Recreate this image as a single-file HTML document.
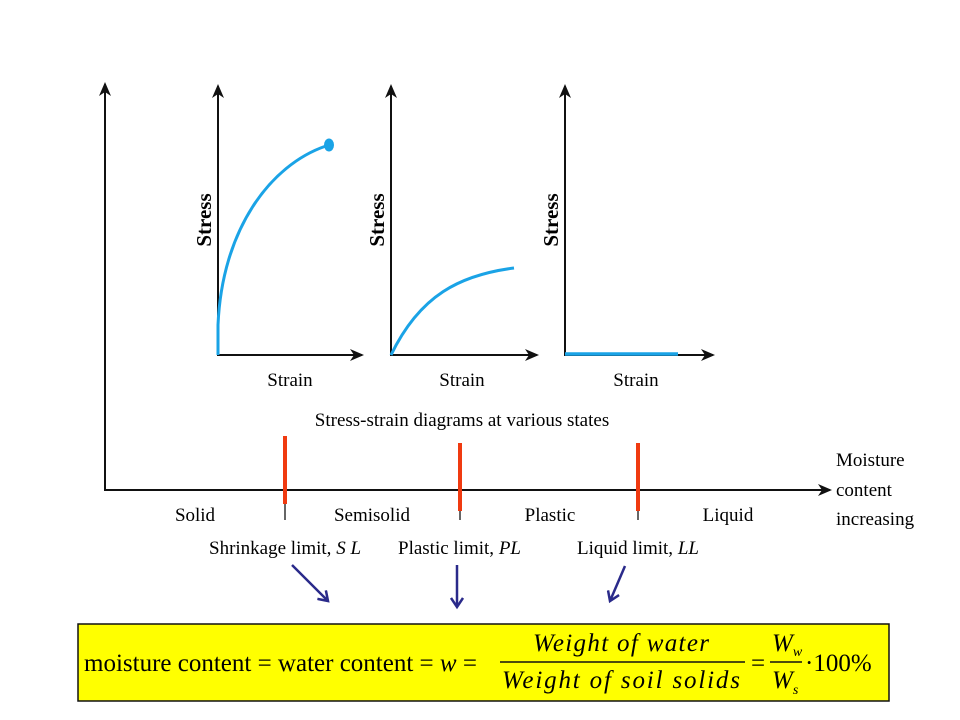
<!DOCTYPE html>
<html><head><meta charset="utf-8"><style>
body{margin:0;background:#fff;}
svg{display:block;font-family:"Liberation Serif",serif;}
</style></head><body>
<svg width="960" height="720" viewBox="0 0 960 720">
<defs>
<marker id="ah" markerWidth="14" markerHeight="12" refX="12" refY="6" orient="auto" markerUnits="userSpaceOnUse"><path d="M0,0 L14,6 L0,12 L4,6 Z" fill="#111"/></marker>
<marker id="bh" markerWidth="14" markerHeight="14" refX="11" refY="7" orient="auto" markerUnits="userSpaceOnUse"><path d="M2,1 L11,7 L2,13" fill="none" stroke="#2a2a8a" stroke-width="2.5"/></marker>
</defs>
<g stroke="#111" stroke-width="2" fill="none">
<line x1="105" y1="490" x2="105" y2="84" marker-end="url(#ah)"/>
<line x1="104" y1="490" x2="830" y2="490" marker-end="url(#ah)"/>
</g>
<text x="836" y="466" font-size="19">Moisture</text>
<text x="836" y="496" font-size="19">content</text>
<text x="836" y="525" font-size="19">increasing</text>
<g>
<g stroke="#111" stroke-width="2" fill="none"><line x1="218" y1="355" x2="218" y2="86" marker-end="url(#ah)"/><line x1="217" y1="355" x2="362" y2="355" marker-end="url(#ah)"/></g>
<path d="M218,355 L218,325 C222,230 270,165 326,146" fill="none" stroke="#1aa3e6" stroke-width="3"/>
<ellipse cx="329" cy="145" rx="5" ry="6.5" fill="#1aa3e6"/>
<text transform="translate(211,220) rotate(-90)" text-anchor="middle" font-size="21" font-weight="bold">Stress</text>
<text x="290" y="386" text-anchor="middle" font-size="19">Strain</text>
</g>
<g>
<g stroke="#111" stroke-width="2" fill="none"><line x1="391" y1="355" x2="391" y2="86" marker-end="url(#ah)"/><line x1="390" y1="355" x2="537" y2="355" marker-end="url(#ah)"/></g>
<path d="M391,355 C420,295 460,275 514,268" fill="none" stroke="#1aa3e6" stroke-width="3"/>
<text transform="translate(384,220) rotate(-90)" text-anchor="middle" font-size="21" font-weight="bold">Stress</text>
<text x="462" y="386" text-anchor="middle" font-size="19">Strain</text>
</g>
<g>
<g stroke="#111" stroke-width="2" fill="none"><line x1="565" y1="355" x2="565" y2="86" marker-end="url(#ah)"/><line x1="564" y1="355" x2="713" y2="355" marker-end="url(#ah)"/></g>
<line x1="565" y1="354" x2="678" y2="354" stroke="#1aa3e6" stroke-width="3.5"/>
<text transform="translate(558,220) rotate(-90)" text-anchor="middle" font-size="21" font-weight="bold">Stress</text>
<text x="636" y="386" text-anchor="middle" font-size="19">Strain</text>
</g>
<text x="462" y="426" text-anchor="middle" font-size="19">Stress-strain diagrams at various states</text>
<g>
<line x1="285" y1="490" x2="285" y2="520" stroke="#333" stroke-width="1.5"/>
<line x1="460" y1="490" x2="460" y2="520" stroke="#333" stroke-width="1.5"/>
<line x1="638" y1="490" x2="638" y2="520" stroke="#333" stroke-width="1.5"/>
<line x1="285" y1="436" x2="285" y2="504" stroke="#f03a10" stroke-width="4"/>
<line x1="460" y1="443" x2="460" y2="511" stroke="#f03a10" stroke-width="4"/>
<line x1="638" y1="443" x2="638" y2="511" stroke="#f03a10" stroke-width="4"/>
</g>
<g font-size="19">
<text x="195" y="521" text-anchor="middle">Solid</text>
<text x="372" y="521" text-anchor="middle">Semisolid</text>
<text x="550" y="521" text-anchor="middle">Plastic</text>
<text x="728" y="521" text-anchor="middle">Liquid</text>
</g>
<g font-size="19">
<text x="209" y="554">Shrinkage limit, <tspan font-style="italic">S L</tspan></text>
<text x="398" y="554">Plastic limit,  <tspan font-style="italic">PL</tspan></text>
<text x="577" y="554">Liquid limit, <tspan font-style="italic">LL</tspan></text>
</g>
<g stroke="#2a2a8a" stroke-width="2.5" fill="none">
<line x1="292" y1="565" x2="328" y2="601" marker-end="url(#bh)"/>
<line x1="457" y1="565" x2="457" y2="607" marker-end="url(#bh)"/>
<line x1="625" y1="566" x2="610" y2="601" marker-end="url(#bh)"/>
</g>
<g>
<rect x="78" y="624" width="811" height="77" fill="#ffff00" stroke="#111" stroke-width="1.5"/>
<text x="84" y="671" font-size="25">moisture content = water content = <tspan font-style="italic">w</tspan> =</text>
<text x="621" y="651" text-anchor="middle" font-size="25" font-style="italic" textLength="176">Weight of water</text>
<line x1="500" y1="662" x2="745" y2="662" stroke="#111" stroke-width="1.5"/>
<text x="621" y="688" text-anchor="middle" font-size="25" font-style="italic" textLength="238">Weight of  soil solids</text>
<text x="751" y="671" font-size="25">=</text>
<text x="772" y="651" font-size="25" font-style="italic">W<tspan font-size="14" dy="5">w</tspan></text>
<line x1="770" y1="662" x2="802" y2="662" stroke="#111" stroke-width="1.5"/>
<text x="772" y="688" font-size="25" font-style="italic">W<tspan font-size="14" dy="6">s</tspan></text>
<text x="805" y="671" font-size="25">·100%</text>
</g>
</svg>
</body></html>
